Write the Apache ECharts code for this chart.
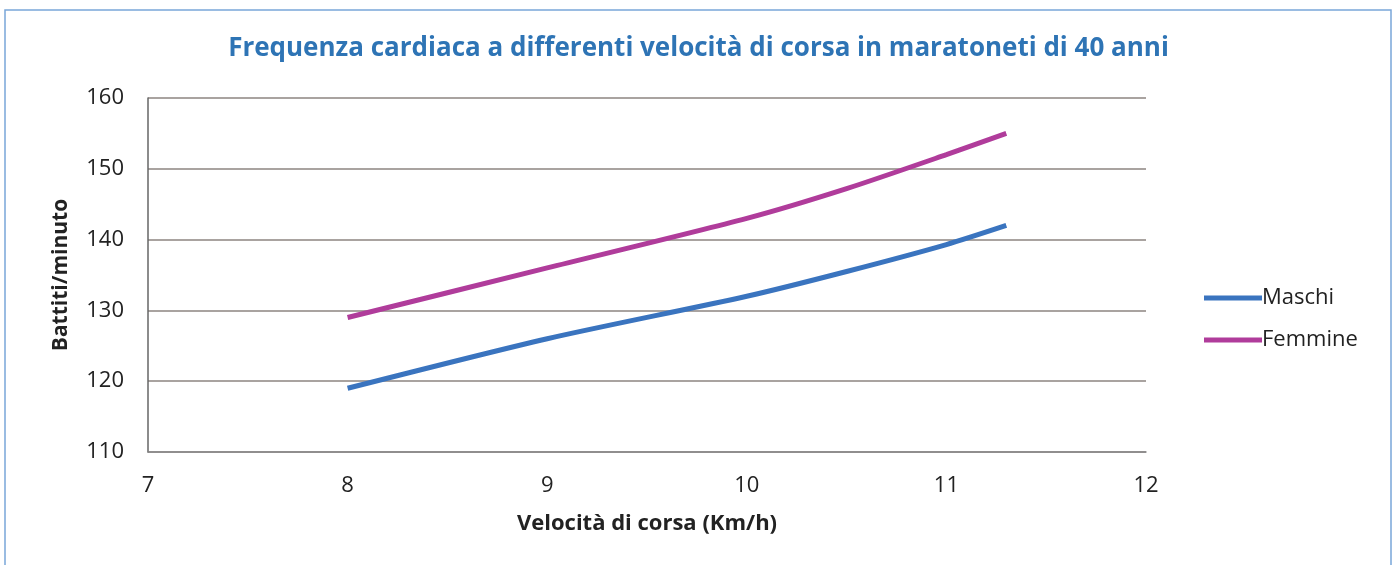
<!DOCTYPE html>
<html>
<head>
    <meta charset="utf-8">
    <title>Frequenza cardiaca</title>
    <script src="https://cdn.jsdelivr.net/npm/echarts@6/dist/echarts.min.js"></script>
    <style>
        html, body { margin: 0; padding: 0; background: #fff; }
        #chart { width: 1397px; height: 565px; }
    </style>
</head>
<body>
    <div id="chart"></div>
    <script type="text/javascript">
        // valori
        var velocita = [8, 9, 10, 10.5, 11, 11.3];
        var maschi = [119, 126, 132, 135.5, 139.3, 142];
        var femmine = [129, 136, 143, 147.2, 152, 155];
        var seriesNames = ['Maschi', 'Femmine'];

        function pairs(xs, ys) {
            return xs.map(function (x, i) { return [x, ys[i]]; });
        }

        var font = 'Open Sans';
        var myChart = echarts.init(document.getElementById('chart'));

        var option = {
            backgroundColor: '#fff',
            animation: false,
            title: {
                text: 'Frequenza cardiaca a differenti velocità di corsa in maratoneti di 40 anni',
                left: 'center',
                top: 31,
                textStyle: {
                    color: '#2e74b5',
                    fontSize: 26,
                    fontWeight: 'bold',
                    fontFamily: font
                }
            },
            graphic: [{
                type: 'rect',
                shape: { x: 5, y: 10, width: 1386, height: 600 },
                style: { fill: 'none', stroke: '#7aa7d9', lineWidth: 1.5 },
                silent: true
            }],
            legend: {
                orient: 'vertical',
                left: 1199,
                top: 282,
                itemWidth: 58,
                itemHeight: 5,
                itemGap: 20,
                icon: 'rect',
                textStyle: { fontSize: 22, color: '#222', fontFamily: font, padding: [0, 0, 0, -5] },
                data: seriesNames
            },
            grid: {
                left: 148,
                right: 251,
                top: 98,
                bottom: 113
            },
            xAxis: {
                type: 'value',
                min: 7,
                max: 12,
                interval: 1,
                name: 'Velocità di corsa (Km/h)',
                nameLocation: 'middle',
                nameGap: 61,
                nameTextStyle: { fontSize: 22, fontWeight: 'bold', color: '#222', fontFamily: font },
                axisLine: { lineStyle: { color: '#888', width: 1.5 } },
                axisTick: { show: false },
                splitLine: { show: false },
                axisLabel: { margin: 23, fontSize: 22, color: '#222', fontFamily: font }
            },
            yAxis: {
                type: 'value',
                min: 110,
                max: 160,
                interval: 10,
                name: 'Battiti/minuto',
                nameLocation: 'middle',
                nameGap: 76,
                nameTextStyle: { fontSize: 21, fontWeight: 'bold', color: '#222', fontFamily: font },
                axisLine: { show: true, lineStyle: { color: '#666', width: 1.5 } },
                axisTick: { show: false },
                splitLine: { lineStyle: { color: '#8c8480', width: 1.5 } },
                axisLabel: { margin: 24, fontSize: 22, color: '#222', fontFamily: font }
            },
            series: [
                {
                    name: seriesNames[0],
                    type: 'line',
                    smooth: 0.25,
                    showSymbol: false,
                    lineStyle: { width: 5, color: '#3a74bf' },
                    itemStyle: { color: '#3a74bf' },
                    data: pairs(velocita, maschi)
                },
                {
                    name: seriesNames[1],
                    type: 'line',
                    smooth: 0.25,
                    showSymbol: false,
                    lineStyle: { width: 5, color: '#b03c9b' },
                    itemStyle: { color: '#b03c9b' },
                    data: pairs(velocita, femmine)
                }
            ]
        };

        myChart.setOption(option);
    </script>
</body>
</html>
